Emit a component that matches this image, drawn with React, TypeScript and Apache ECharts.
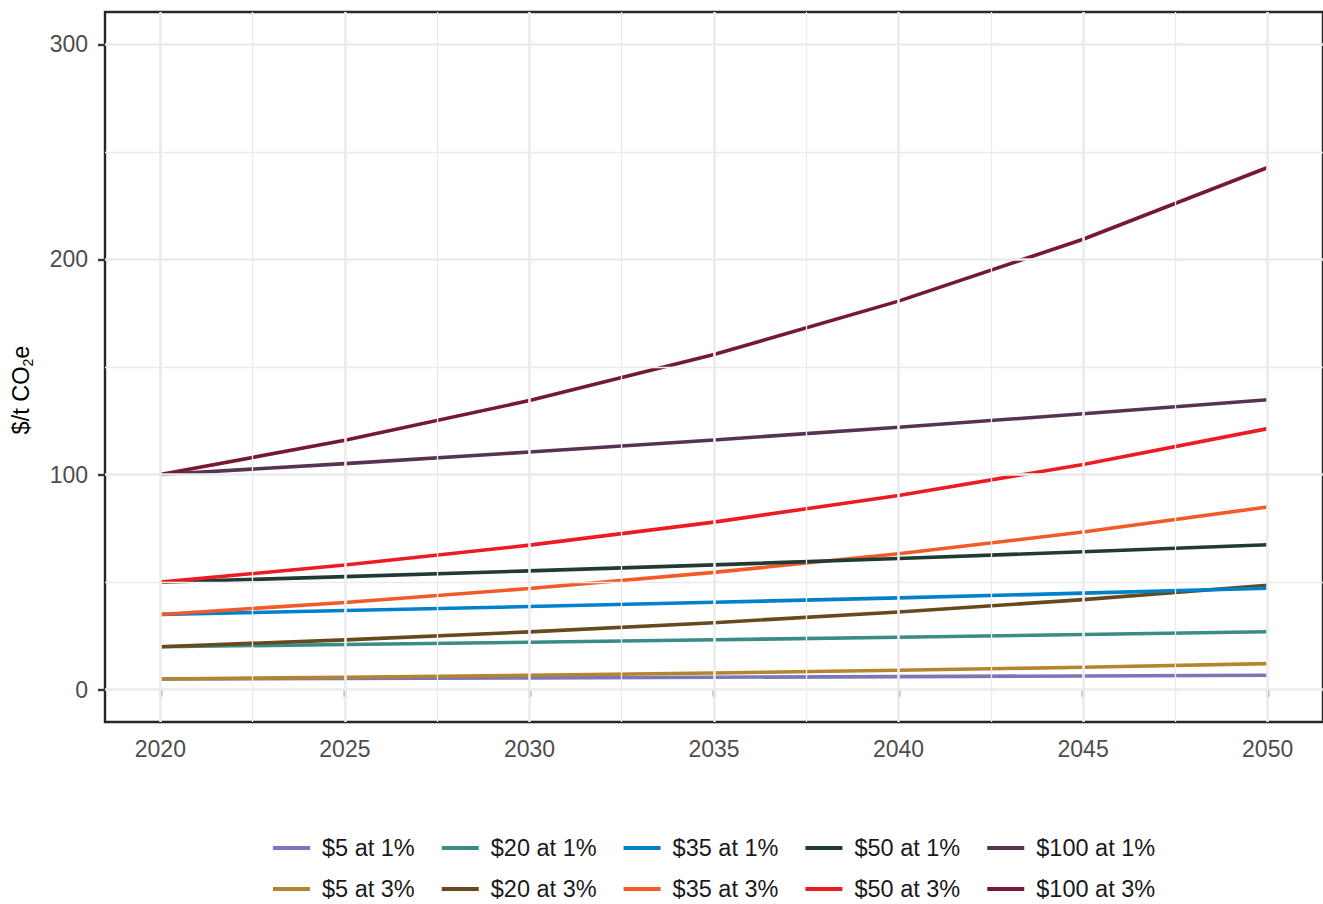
import React, { useEffect, useRef } from "react";
import * as echarts from "echarts";

const years = [2020, 2025, 2030, 2035, 2040, 2045, 2050];

const v5at1 = [5, 5.26, 5.52, 5.8, 6.1, 6.41, 6.74];
const v5at3 = [5, 5.8, 6.72, 7.79, 9.03, 10.47, 12.14];
const v20at1 = [20, 21.02, 22.09, 23.22, 24.4, 25.65, 26.96];
const v20at3 = [20, 23.19, 26.88, 31.16, 36.12, 41.88, 48.55];
const v35at1 = [35, 36.79, 38.66, 40.63, 42.71, 44.89, 47.17];
const v35at3 = [35, 40.57, 47.04, 54.53, 63.21, 73.28, 84.95];
const v50at1 = [50, 52.55, 55.23, 58.05, 61.01, 64.12, 67.39];
const v50at3 = [50, 57.96, 67.2, 77.9, 90.31, 104.69, 121.36];
const v100at1 = [100, 105.1, 110.46, 116.1, 122.02, 128.24, 134.78];
const v100at3 = [100, 115.93, 134.39, 155.8, 180.61, 209.38, 242.73];

const seriesNames = [
  "$5 at 1%", "$5 at 3%",
  "$20 at 1%", "$20 at 3%",
  "$35 at 1%", "$35 at 3%",
  "$50 at 1%", "$50 at 3%",
  "$100 at 1%", "$100 at 3%",
];
const seriesValues = [v5at1, v5at3, v20at1, v20at3, v35at1, v35at3, v50at1, v50at3, v100at1, v100at3];
const seriesColors = [
  "#7b77b9", "#b3852f",
  "#3b8b86", "#66491d",
  "#0081c9", "#f15a29",
  "#203a35", "#ed1c24",
  "#56344f", "#761a31",
];

const legendRow1 = ["$5 at 1%", "$20 at 1%", "$35 at 1%", "$50 at 1%", "$100 at 1%"];
const legendRow2 = ["$5 at 3%", "$20 at 3%", "$35 at 3%", "$50 at 3%", "$100 at 3%"];

const majorX = [2020, 2025, 2030, 2035, 2040, 2045, 2050];
const minorX = [2022.5, 2027.5, 2032.5, 2037.5, 2042.5, 2047.5];
const majorY = [0, 100, 200, 300];
const minorY = [50, 150, 250];

const FONT = "Liberation Sans, Arial, Helvetica, sans-serif";

export default function App() {
  const ref = useRef<HTMLDivElement>(null);
  useEffect(() => {
    if (!ref.current) return;
    const chart = echarts.init(ref.current, null, { renderer: "svg" });

    const gridSeries = (xs: number[], ys: number[], width: number) => ({
      type: "line",
      data: [],
      z: 1,
      silent: true,
      markLine: {
        silent: true,
        animation: false,
        symbol: ["none", "none"],
        label: { show: false },
        emphasis: { disabled: true },
        lineStyle: { color: "#ebebeb", width, type: "solid" },
        data: [...xs.map((v) => ({ xAxis: v })), ...ys.map((v) => ({ yAxis: v }))],
      },
    });

    const legendBase = {
      orient: "horizontal",
      left: 273,
      padding: 0,
      itemGap: 27,
      itemWidth: 37,
      itemHeight: 4,
      icon: "rect",
      selectedMode: false,
      textStyle: {
        fontFamily: FONT,
        fontSize: 23.5,
        lineHeight: 20,
        color: "#1a1a1a",
        padding: [0, 0, 0, 7],
      },
    };

    chart.setOption({
      animation: false,
      backgroundColor: "#ffffff",
      grid: {
        left: 105,
        top: 12,
        right: -3,
        bottom: 182,
        show: true,
        borderColor: "#262626",
        borderWidth: 2.4,
        backgroundColor: "transparent",
        containLabel: false,
      },
      xAxis: {
        type: "value",
        min: 2018.5,
        max: 2051.5,
        axisLine: { show: false },
        splitLine: { show: false },
        axisTick: {
          show: true,
          customValues: majorX,
          length: 7,
          lineStyle: { color: "#333333", width: 2.4 },
        },
        axisLabel: {
          customValues: majorX,
          formatter: (v: number) => String(v),
          margin: 15,
          fontFamily: FONT,
          fontSize: 23,
          color: "#4d4d4d",
        },
      },
      yAxis: {
        type: "value",
        min: -15,
        max: 315,
        axisLine: { show: false },
        splitLine: { show: false },
        axisTick: {
          show: true,
          customValues: majorY,
          length: 7,
          lineStyle: { color: "#333333", width: 2.4 },
        },
        axisLabel: {
          customValues: majorY,
          formatter: (v: number) => String(v),
          margin: 17,
          fontFamily: FONT,
          fontSize: 23,
          color: "#4d4d4d",
        },
      },
      legend: [
        { ...legendBase, top: 836, data: legendRow1 },
        { ...legendBase, top: 877, data: legendRow2 },
      ],
      graphic: [
        {
          type: "text",
          x: 21,
          y: 390,
          rotation: Math.PI / 2,
          style: {
            text: "{a|$/t CO}{b|2}{a|e}",
            align: "center",
            verticalAlign: "middle",
            rich: {
              a: { fontFamily: FONT, fontSize: 23.5, lineHeight: 28, fill: "#000000", verticalAlign: "middle" },
              b: { fontFamily: FONT, fontSize: 14, lineHeight: 15, fill: "#000000", verticalAlign: "bottom" },
            },
          },
        },
      ],
      series: [
        gridSeries(minorX, minorY, 1.3),
        gridSeries(majorX, majorY, 2.6),
        ...seriesNames.map((name, i) => ({
          name,
          type: "line",
          z: 3,
          showSymbol: false,
          symbol: "none",
          color: seriesColors[i],
          lineStyle: { width: 3.6, color: seriesColors[i], join: "round", cap: "butt" },
          emphasis: { disabled: true },
          data: years.map((y, j) => [y, seriesValues[i][j]]),
        })),
      ],
    });
    return () => chart.dispose();
  }, []);
  return (
    <div
      ref={ref}
      style={{ position: "absolute", left: 0, top: 0, width: 1323, height: 904 }}
    />
  );
}
